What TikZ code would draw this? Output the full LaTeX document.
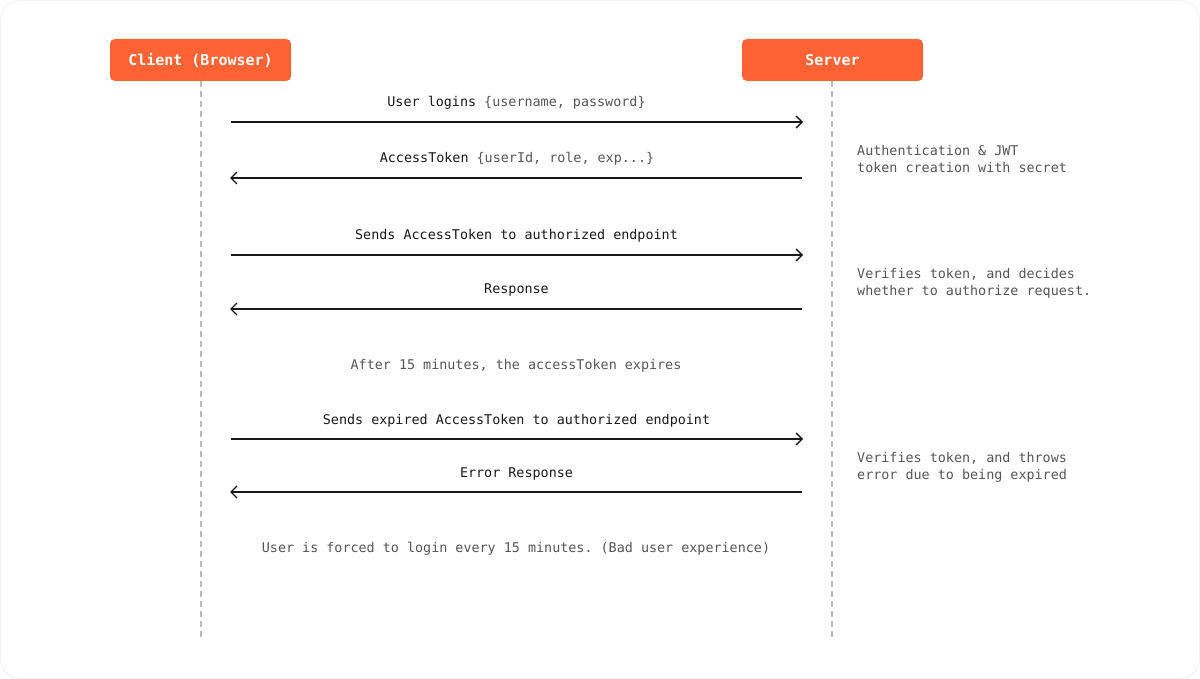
\documentclass[tikz,border=0pt]{standalone}
\usepackage{fontspec}
\setmonofont{DejaVu Sans Mono}
\usetikzlibrary{arrows.meta}

\definecolor{brand}{HTML}{FF6233}
\definecolor{notegray}{HTML}{555555}
\definecolor{linegray}{HTML}{BBBBBB}

\tikzset{
    actor/.style={rectangle, rounded corners=5pt, fill=brand, text=white,
        minimum width=181pt, minimum height=42pt, inner sep=0pt,
        font=\ttfamily\bfseries\fontsize{15}{18}\selectfont},
    lifeline/.style={draw=linegray, line width=1.2pt, dash pattern=on 6pt off 4pt},
    msg/.style={draw=black!90, line width=1.3pt, -{Straight Barb[length=6pt,width=12pt,line width=1.3pt]},
        shorten <=30pt, shorten >=29pt},
    msglabel/.style={anchor=base, yshift=15pt, text=black!90,
        font=\ttfamily\fontsize{13.4}{17}\selectfont},
    remark/.style={anchor=center, text=notegray,
        font=\ttfamily\fontsize{13.4}{17}\selectfont},
    note/.style={anchor=west, align=left, text=notegray, inner sep=0pt,
        font=\ttfamily\fontsize{13.4}{17}\selectfont},
}

\newcommand{\argtext}[1]{\textcolor{notegray}{#1}}

\begin{document}
\begin{tikzpicture}[x=1pt, y=-1pt]
    \useasboundingbox (0,0) rectangle (1200,679);
    \draw[black!5, line width=1pt, rounded corners=20pt] (0.5,0.5) rectangle (1199.5,678.5);

    \node[actor] (client) at (200.5,60) {Client (Browser)};
    \node[actor] (server) at (832.5,60) {Server};
    \coordinate (clientEnd) at (201,638);
    \coordinate (serverEnd) at (832,638);
    \draw[lifeline] (client.south -| 201,0) -- (clientEnd);
    \draw[lifeline] (server.south -| 832,0) -- (serverEnd);

    % points on the lifelines
    \foreach \i/\y in {1/122, 2/178, 3/255, 4/309, 5/439, 6/492} {
        \coordinate (c\i) at (201,\y);
        \coordinate (s\i) at (832,\y);
    }

    % messages
    \draw[msg] (c1) -- (s1) node[midway, msglabel] {User logins \argtext{\{username, password\}}};
    \draw[msg] (s2) -- (c2) node[midway, msglabel, xshift=0.5pt] {AccessToken \argtext{\{userId, role, exp...\}}};
    \draw[msg] (c3) -- (s3) node[midway, msglabel] {Sends AccessToken to authorized endpoint};
    \draw[msg] (s4) -- (c4) node[midway, msglabel] {Response};
    \draw[msg] (c5) -- (s5) node[midway, msglabel] {Sends expired AccessToken to authorized endpoint};
    \draw[msg] (s6) -- (c6) node[midway, msglabel] {Error Response};

    % remarks between the lifelines
    \node[remark] (expire) at (516,366) {After 15 minutes, the accessToken expires};
    \node[remark] (badux) at (516,549) {User is forced to login every 15 minutes. (Bad user experience)};

    % server side notes
    \node[note] (authNote) at (857,159) {Authentication \& JWT\\token creation with secret};
    \node[note] (verifyNote) at (857,283) {Verifies token, and decides\\whether to authorize request.};
    \node[note] (expiredNote) at (857,467) {Verifies token, and throws\\error due to being expired};
\end{tikzpicture}
\end{document}
